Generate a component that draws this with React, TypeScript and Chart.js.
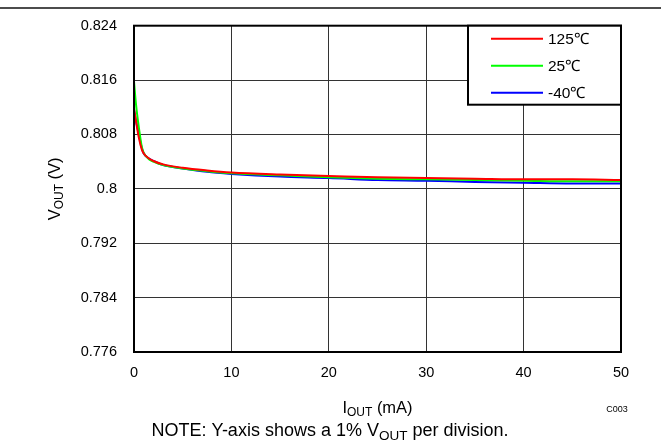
import React, { useEffect, useRef } from "react";
import { Chart, registerables } from "chart.js";
Chart.register(...registerables);

const iout = [0, 0.2, 0.5, 0.8, 1, 1.5, 2, 3, 5, 7.5, 10, 15, 20, 25, 30, 35, 40, 45, 50];
const v125 = [0.8118, 0.8100, 0.8075, 0.8058, 0.8052, 0.8045, 0.8041, 0.8036, 0.8031, 0.8027, 0.8024, 0.8021, 0.8019, 0.8017, 0.8016, 0.8015, 0.8014, 0.8014, 0.8013];
const v25 = [0.8158, 0.8125, 0.8090, 0.8062, 0.8053, 0.8044, 0.8040, 0.8035, 0.8030, 0.8026, 0.8023, 0.8020, 0.8017, 0.8015, 0.8014, 0.8013, 0.8012, 0.8011, 0.8011];
const vm40 = [0.8116, 0.8100, 0.8080, 0.8060, 0.8052, 0.8045, 0.8041, 0.8035, 0.8030, 0.8025, 0.8022, 0.8018, 0.8016, 0.8013, 0.8012, 0.8010, 0.8009, 0.8008, 0.8008];
const seriesLabels = ["125℃", "25℃", "-40℃"];
const seriesColors = ["#FF0000", "#00FF00", "#0000FF"];
const yTicks = [0.776, 0.784, 0.792, 0.8, 0.808, 0.816, 0.824];
const yTickLabels = ["0.776", "0.784", "0.792", "0.8", "0.808", "0.816", "0.824"];
const xTicks = [0, 10, 20, 30, 40, 50];
const xTickLabels = ["0", "10", "20", "30", "40", "50"];

const FONT = "'Liberation Sans', Arial, sans-serif";

type Part = [string, boolean];

function drawParts(ctx: CanvasRenderingContext2D, parts: Part[], cx: number, cy: number, size: number, subSize: number) {
  const widths = parts.map(([t, sub]) => {
    ctx.font = `${sub ? subSize : size}px ${FONT}`;
    return ctx.measureText(t).width;
  });
  const total = widths.reduce((a, b) => a + b, 0);
  let x = cx - total / 2;
  ctx.textAlign = "left";
  ctx.textBaseline = "middle";
  parts.forEach(([t, sub], i) => {
    ctx.font = `${sub ? subSize : size}px ${FONT}`;
    ctx.fillText(t, x, cy + (sub ? size * 0.3 : 0));
    x += widths[i];
  });
}

const decor = {
  id: "decor",
  beforeDraw(chart: any) {
    const ctx = chart.ctx;
    ctx.save();
    ctx.fillStyle = "#fff";
    ctx.fillRect(0, 0, chart.width, chart.height);
    ctx.restore();
  },
  afterDraw(chart: any) {
    const ctx: CanvasRenderingContext2D = chart.ctx;
    const a = chart.chartArea;
    ctx.save();
    // top separator line
    ctx.strokeStyle = "#111";
    ctx.lineWidth = 1.5;
    ctx.beginPath();
    ctx.moveTo(0, 8);
    ctx.lineTo(chart.width, 8);
    ctx.stroke();
    // plot border
    ctx.strokeStyle = "#000";
    ctx.lineWidth = 2;
    ctx.strokeRect(a.left, a.top, a.right - a.left, a.bottom - a.top);
    // legend
    const bw = 153, bh = 79;
    const bx = a.right - bw, by = a.top;
    ctx.fillStyle = "#fff";
    ctx.fillRect(bx, by, bw, bh);
    ctx.strokeRect(bx, by, bw, bh);
    chart.data.datasets.forEach((ds: any, i: number) => {
      const y = by + 13 + i * 27;
      ctx.strokeStyle = ds.borderColor;
      ctx.lineWidth = 2;
      ctx.beginPath();
      ctx.moveTo(bx + 23, y);
      ctx.lineTo(bx + 75, y);
      ctx.stroke();
      ctx.fillStyle = "#000";
      ctx.font = `15.5px ${FONT}`;
      ctx.textAlign = "left";
      ctx.textBaseline = "middle";
      ctx.fillText(ds.label, bx + 80, y + 1);
    });
    ctx.fillStyle = "#000";
    // x title
    drawParts(ctx, [["I", false], ["OUT", true], [" (mA)", false]], (a.left + a.right) / 2, 408, 16.5, 12);
    // y title
    ctx.save();
    ctx.translate(55, (a.top + a.bottom) / 2);
    ctx.rotate(-Math.PI / 2);
    drawParts(ctx, [["V", false], ["OUT", true], [" (V)", false]], 0, 0, 16.5, 12);
    ctx.restore();
    // C003
    ctx.font = `9px ${FONT}`;
    ctx.textAlign = "center";
    ctx.textBaseline = "middle";
    ctx.fillText("C003", 617, 410);
    // note
    drawParts(ctx, [["NOTE: Y-axis shows a 1% V", false], ["OUT", true], [" per division.", false]], 330, 431, 18, 13.5);
    ctx.restore();
  },
};

export default function App() {
  const ref = useRef<HTMLCanvasElement>(null);
  useEffect(() => {
    if (!ref.current) return;
    const series = [v125, v25, vm40];
    const chart = new Chart(ref.current, {
      type: "line",
      data: {
        datasets: series.map((s, i) => ({
          label: seriesLabels[i],
          data: iout.map((x, j) => ({ x, y: s[j] })),
          borderColor: seriesColors[i],
          backgroundColor: seriesColors[i],
          borderWidth: 2,
          pointRadius: 0,
          cubicInterpolationMode: "monotone" as const,
          fill: false,
        })),
      },
      options: {
        animation: false,
        responsive: false,
        devicePixelRatio: 1,
        events: [],
        layout: { padding: { top: 22, right: 40, left: 0, bottom: 0 } },
        plugins: { legend: { display: false }, tooltip: { enabled: false }, title: { display: false } },
        scales: {
          x: {
            type: "linear",
            min: 0,
            max: 50,
            afterBuildTicks: (s: any) => { s.ticks = xTicks.map((v) => ({ value: v })); },
            afterFit: (s: any) => { s.height = 93; },
            ticks: {
              color: "#000",
              font: { family: FONT, size: 14.5 },
              padding: 12,
              maxRotation: 0,
              callback: (v: any) => xTickLabels[xTicks.indexOf(Number(v))] ?? "",
            },
            grid: { color: "#333", lineWidth: 1, drawTicks: false },
            border: { display: false },
          },
          y: {
            type: "linear",
            min: 0.776,
            max: 0.824,
            afterBuildTicks: (s: any) => { s.ticks = yTicks.map((v) => ({ value: v })); },
            afterFit: (s: any) => { s.width = 134; },
            ticks: {
              color: "#000",
              font: { family: FONT, size: 14.5 },
              padding: 17,
              callback: (v: any) => {
                const i = yTicks.findIndex((t) => Math.abs(t - Number(v)) < 1e-6);
                return i >= 0 ? yTickLabels[i] : "";
              },
            },
            grid: { color: "#333", lineWidth: 1, drawTicks: false },
            border: { display: false },
          },
        },
      },
      plugins: [decor],
    });
    return () => chart.destroy();
  }, []);
  return (
    <div style={{ position: "fixed", left: 0, top: 0, width: 661, height: 445, background: "#fff" }}>
      <canvas ref={ref} width={661} height={445} style={{ display: "block" }} />
    </div>
  );
}
